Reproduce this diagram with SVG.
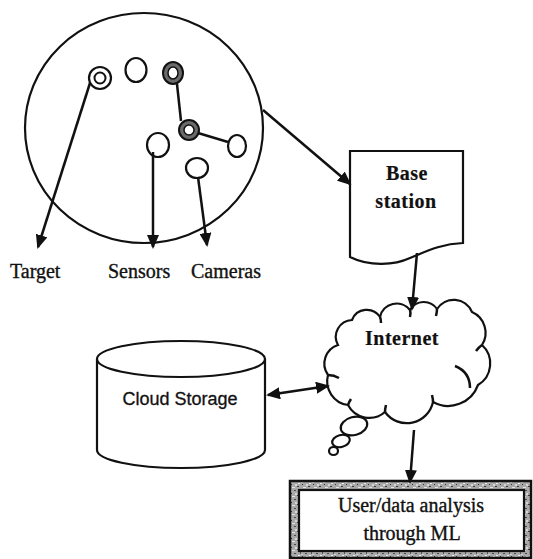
<svg xmlns="http://www.w3.org/2000/svg" width="533" height="559" viewBox="0 0 533 559">
<defs>
<style>
.ln{stroke:#111;stroke-width:2.5;fill:none}
.sh{stroke:#111;stroke-width:2.2;fill:#fff}
.lbl{font-family:"Liberation Serif","Times New Roman",serif;font-size:20px;fill:#111;stroke:#111;stroke-width:0.35}
.bold{font-weight:bold;stroke-width:0.2}
.sans{font-family:"Liberation Sans",Arial,sans-serif;font-size:18px;fill:#111;stroke:#111;stroke-width:0.3}
</style>
<marker id="ah" markerUnits="userSpaceOnUse" markerWidth="14" markerHeight="12" refX="12" refY="6" orient="auto-start-reverse">
<path d="M0,0 L14,6 L0,12 Z" fill="#111"/>
</marker>
<pattern id="tex" width="11" height="9" patternUnits="userSpaceOnUse">
<rect width="11" height="9" fill="#a9a9a9"/>
<rect x="0" y="0" width="2" height="1" fill="#3c3c3c"/>
<rect x="6" y="1" width="3" height="1" fill="#e4e4e4"/>
<rect x="3" y="3" width="1" height="2" fill="#555"/>
<rect x="8" y="4" width="2" height="1" fill="#4a4a4a"/>
<rect x="1" y="6" width="2" height="1" fill="#eee"/>
<rect x="5" y="7" width="1" height="1" fill="#333"/>
<rect x="9" y="7" width="2" height="2" fill="#d6d6d6"/>
<rect x="4" y="5" width="2" height="1" fill="#cfcfcf"/>
</pattern>
</defs>
<rect width="533" height="559" fill="#fff"/>

<g id="field">
<ellipse cx="144" cy="128" rx="119" ry="115" fill="none" stroke="#111" stroke-width="2.2"/>
</g>
<g id="target-node">
<circle cx="100" cy="78" r="11" class="sh"/>
<circle cx="100" cy="78" r="5.5" fill="#fff" stroke="#111" stroke-width="2"/>
</g>
<g id="node-plain">
<ellipse cx="136" cy="70" rx="10.5" ry="12" class="sh"/>
</g>
<g id="camera-node-1">
<ellipse cx="173" cy="73" rx="10" ry="11" fill="#6a6a6a" stroke="#111" stroke-width="2"/>
<ellipse cx="173" cy="73" rx="5" ry="6" fill="#fff" stroke="#111" stroke-width="1.5"/>
</g>
<g id="camera-node-2">
<ellipse cx="189" cy="130" rx="10" ry="10" fill="#6a6a6a" stroke="#111" stroke-width="2"/>
<ellipse cx="189" cy="130" rx="5" ry="5" fill="#fff" stroke="#111" stroke-width="1.5"/>
</g>
<g id="node-right">
<ellipse cx="237" cy="146" rx="9" ry="11" class="sh"/>
</g>
<g id="sensor-node">
<ellipse cx="158" cy="145" rx="11" ry="12" class="sh"/>
</g>
<g id="camera-node-3">
<ellipse cx="197" cy="168" rx="11" ry="10" class="sh"/>
</g>

<g id="base-station">
<path d="M350,151 L463,151 L463,243 C440,244 425,252 410,258 C395,265 370,267 350,257 Z" class="sh" stroke-width="2.5"/>
<text x="407" y="180" text-anchor="middle" class="lbl bold" letter-spacing="0.5">Base</text>
<text x="406" y="208" text-anchor="middle" class="lbl bold" letter-spacing="0.5">station</text>
</g>

<g id="cloud-storage">
<path d="M97,359 L97,450 A84,18 0 0 0 265,450 L265,359" class="sh" stroke-width="2.5"/>
<ellipse cx="181" cy="359" rx="84" ry="18" class="sh" stroke-width="2.5"/>
<text x="180" y="405" text-anchor="middle" class="sans">Cloud Storage</text>
</g>

<g id="internet">
<ellipse cx="354" cy="426" rx="13.5" ry="9" transform="rotate(-15 354 426)" class="sh"/>
<ellipse cx="341" cy="441" rx="9" ry="6" transform="rotate(-15 341 441)" class="sh"/>
<ellipse cx="333.5" cy="451" rx="4.5" ry="4" class="sh"/>
<path d="M348,405 A24,24 0 0 1 328,375 A19.6,19.6 0 0 1 338,345 A16.8,16.8 0 0 1 352,320 A15.8,15.8 0 0 1 380,317 A17,17 0 0 1 410,310 A15.9,15.9 0 0 1 437,309 A19.8,19.8 0 0 1 472,312 A22.7,22.7 0 0 1 482,345 A25,25 0 0 1 478,385 A31.7,31.7 0 0 1 433,402 A26.8,26.8 0 0 1 385,412 A24,24 0 0 1 348,405 Z" class="sh" stroke-width="2.5"/>
<path d="M328,375 Q334,375 339,378 M380,317 Q381,319 381,323 M410,310 Q411,313 410,317 M437,309 Q437,312 436,316 M482,345 Q479,347 476,351 M455,366 Q470,372 470,388 M433,402 Q433,399 432,395 M385,412 Q385,409 386,405 M348,405 Q349,402 351,399" class="ln" stroke-width="2.2"/>
<text x="402" y="345" text-anchor="middle" class="lbl bold" letter-spacing="0.5">Internet</text>
</g>

<g id="analysis">
<rect x="290" y="481" width="241" height="77" fill="url(#tex)" stroke="#111" stroke-width="2.5"/>
<rect x="299" y="490" width="225" height="61" fill="#fff" stroke="#111" stroke-width="2.2"/>
<text x="411" y="512" text-anchor="middle" class="lbl">User/data analysis</text>
<text x="412" y="540" text-anchor="middle" class="lbl">through ML</text>
</g>

<g id="labels">
<text x="10" y="278" class="lbl">Target</text>
<text x="108" y="278" class="lbl">Sensors</text>
<text x="191" y="278" class="lbl">Cameras</text>
</g>

<g id="connectors">
<line x1="177" y1="84" x2="181" y2="121" class="ln" stroke-width="2.2"/>
<line x1="198" y1="133" x2="228" y2="142" class="ln" stroke-width="2.2"/>
<line x1="90" y1="83" x2="38" y2="247" class="ln" marker-end="url(#ah)"/>
<line x1="153" y1="152" x2="153" y2="247" class="ln" marker-end="url(#ah)"/>
<line x1="198" y1="177" x2="207" y2="245" class="ln" marker-end="url(#ah)"/>
<line x1="263" y1="110" x2="350" y2="184" class="ln" marker-end="url(#ah)"/>
<line x1="417" y1="253" x2="412" y2="309" class="ln" marker-end="url(#ah)"/>
<line x1="268" y1="395" x2="328" y2="386" class="ln" marker-start="url(#ah)" marker-end="url(#ah)"/>
<line x1="414" y1="430" x2="410" y2="482" class="ln" marker-end="url(#ah)"/>
</g>
</svg>
